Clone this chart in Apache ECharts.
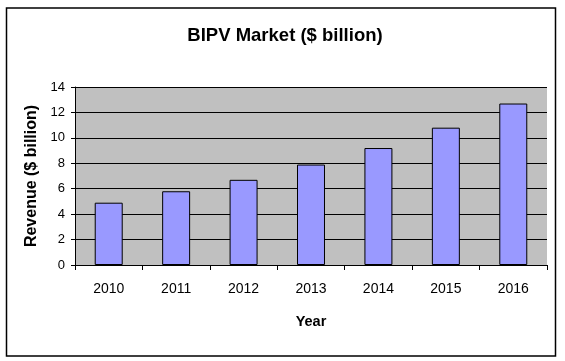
<!DOCTYPE html>
<html>
<head>
<meta charset="utf-8">
<script src="https://cdn.jsdelivr.net/npm/echarts@6/dist/echarts.min.js"></script>
<style>
html,body{margin:0;padding:0;background:#fff;}
#c{width:565px;height:361px;}
</style>
</head>
<body>
<div id="c"></div>
<script>
var titleText = 'BIPV Market ($ billion)';
var categories = ['2010', '2011', '2012', '2013', '2014', '2015', '2016'];
var revenue = [4.9, 5.8, 6.7, 7.9, 9.2, 10.8, 12.7];
var yAxisName = 'Revenue ($ billion)';
var xAxisName = 'Year';

var chart = echarts.init(document.getElementById('c'), null, {renderer: 'canvas'});
var FONT = '"Liberation Sans", Arial, sans-serif';
chart.setOption({
  animation: false,
  backgroundColor: '#ffffff',
  title: {
    text: titleText,
    left: 280, top: 21, textAlign: 'center',
    textStyle: {fontFamily: FONT, fontSize: 18.5, fontWeight: 'bold', color: '#000'}
  },
  graphic: [{
    type: 'rect', silent: true, z: -1,
    shape: {x: 6.5, y: 8, width: 549, height: 348},
    style: {fill: 'none', stroke: '#000', lineWidth: 1.5}
  }],
  grid: {left: 75, right: 18, top: 87, bottom: 96, backgroundColor: '#C0C0C0', show: true, borderWidth: 0},
  xAxis: {
    type: 'category',
    data: categories,
    name: xAxisName,
    nameLocation: 'middle',
    nameGap: 49,
    nameTextStyle: {fontFamily: FONT, fontSize: 14.5, fontWeight: 'bold', color: '#000'},
    axisLine: {show: true, lineStyle: {color: '#000', width: 1}},
    axisTick: {show: true, length: 5, lineStyle: {color: '#000'}},
    axisLabel: {fontFamily: FONT, fontSize: 14, color: '#000', margin: 17}
  },
  yAxis: {
    type: 'value',
    min: 0, max: 14, interval: 2,
    name: yAxisName,
    nameLocation: 'middle',
    nameGap: 34,
    nameTextStyle: {fontFamily: FONT, fontSize: 16, fontWeight: 'bold', color: '#000'},
    axisLine: {show: true, lineStyle: {color: '#000', width: 1}},
    axisTick: {show: true, length: 4, lineStyle: {color: '#000'}},
    axisLabel: {fontFamily: FONT, fontSize: 13, color: '#000', margin: 10},
    splitLine: {show: true, lineStyle: {color: '#000', width: 1}}
  },
  series: [{
    type: 'bar',
    data: revenue,
    barWidth: '41.5%',
    itemStyle: {color: '#9999FF', borderColor: '#000', borderWidth: 1}
  }]
});
</script>
</body>
</html>
